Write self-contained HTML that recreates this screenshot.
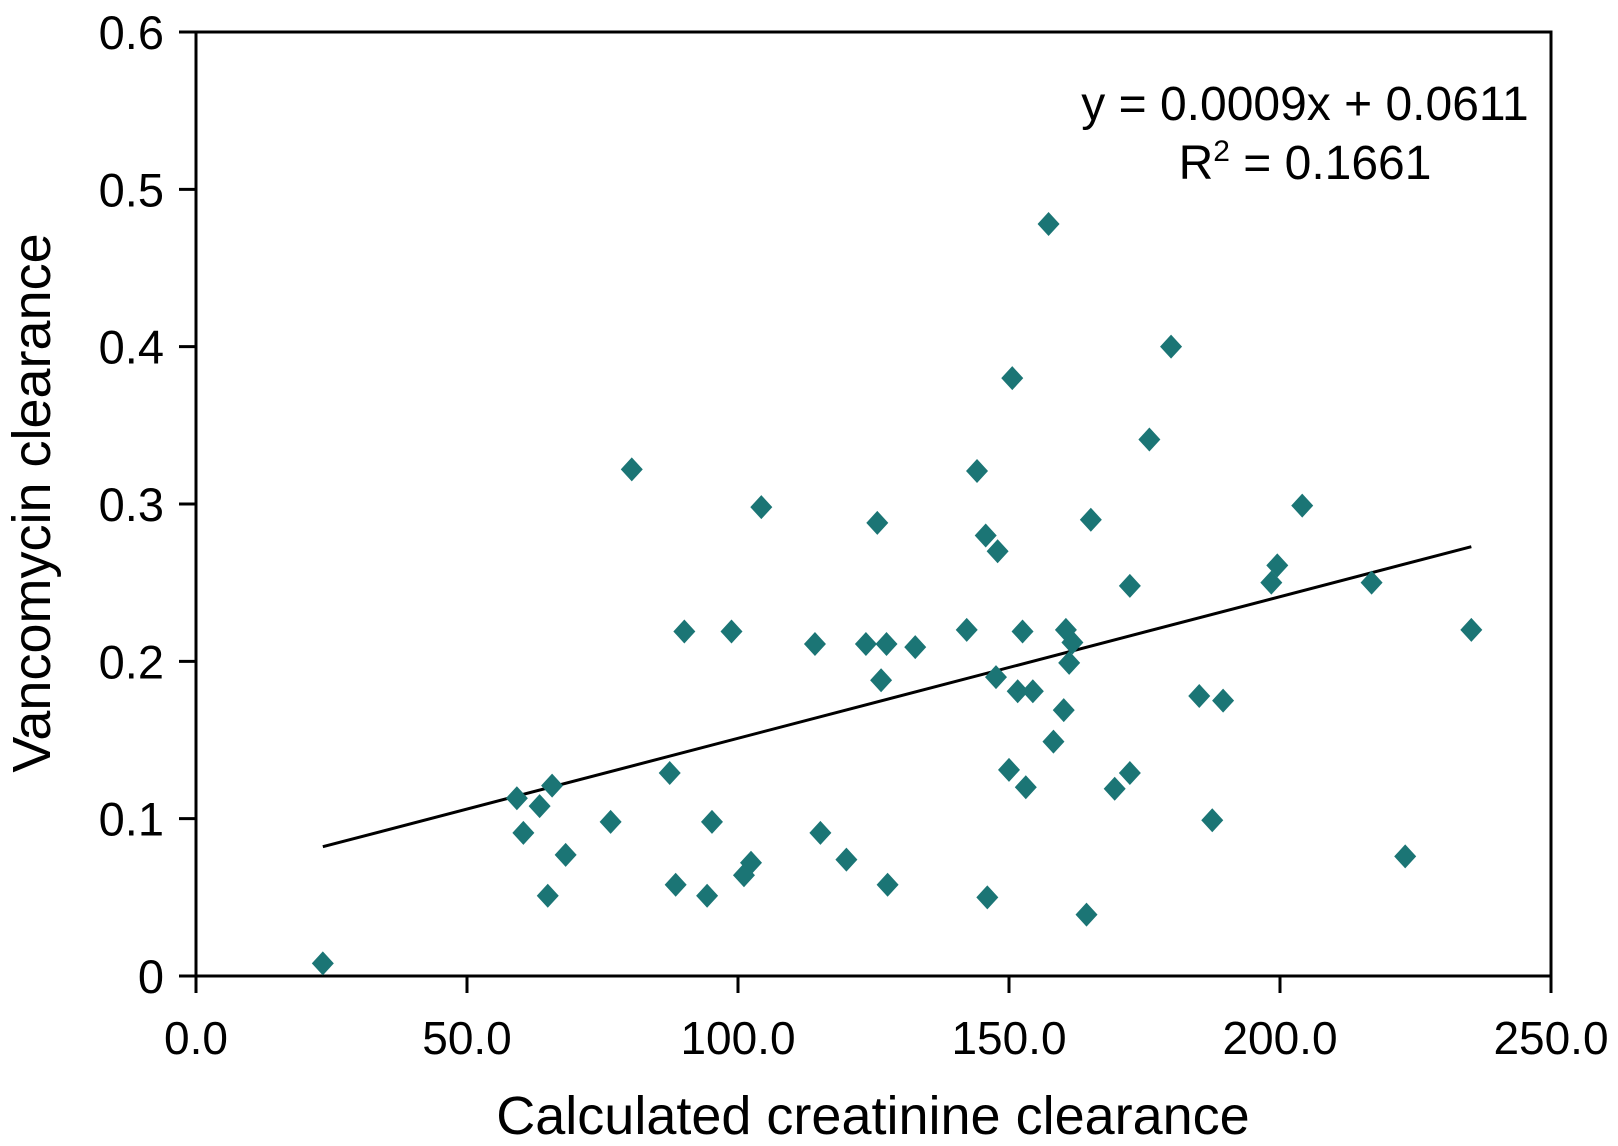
<!DOCTYPE html>
<html><head><meta charset="utf-8"><style>
html,body{margin:0;padding:0;background:#fff;}
svg{display:block;font-family:"Liberation Sans",Arial,sans-serif;}
</style></head><body>
<svg id="chart" width="1618" height="1146" viewBox="0 0 1618 1146" xmlns="http://www.w3.org/2000/svg">
<g id="axes"></g>
<g id="marks"></g>
<text x="1305" y="120" font-size="48" text-anchor="middle">y = 0.0009x + 0.0611</text>
<text x="1305" y="179" font-size="48" text-anchor="middle">R<tspan font-size="30" dy="-18">2</tspan><tspan dy="18"> = 0.1661</tspan></text>
<text x="873" y="1134" font-size="54" text-anchor="middle">Calculated creatinine clearance</text>
<text transform="translate(50,503) rotate(-90)" font-size="54" text-anchor="middle">Vancomycin clearance</text>
</svg>
<script>
const xValues=[23.4,59.2,60.4,63.4,65.7,64.9,68.2,76.5,80.4,87.4,88.5,90.1,95.2,94.3,98.8,101.1,102.4,104.3,114.2,115.2,120.0,123.6,125.7,126.4,127.4,127.6,132.7,142.2,144.1,145.7,146.0,147.6,147.9,150.0,150.6,151.6,152.5,153.1,154.4,157.3,158.2,160.1,160.5,161.1,161.7,164.3,165.1,169.5,172.3,172.3,175.9,179.9,185.1,187.5,189.5,198.4,199.5,204.1,216.9,223.1,235.3];
const yValues=[0.008,0.113,0.091,0.108,0.121,0.051,0.077,0.098,0.322,0.129,0.058,0.219,0.098,0.051,0.219,0.064,0.072,0.298,0.211,0.091,0.074,0.211,0.288,0.188,0.211,0.058,0.209,0.220,0.321,0.280,0.050,0.190,0.270,0.131,0.380,0.181,0.219,0.120,0.181,0.478,0.149,0.169,0.220,0.199,0.212,0.039,0.290,0.119,0.129,0.248,0.341,0.400,0.178,0.099,0.175,0.250,0.261,0.299,0.250,0.076,0.220];
const xTicks=[0,50,100,150,200,250];
const xTickLabels=["0.0","50.0","100.0","150.0","200.0","250.0"];
const yTicks=[0,0.1,0.2,0.3,0.4,0.5,0.6];
const yTickLabels=["0","0.1","0.2","0.3","0.4","0.5","0.6"];
const slope=0.0009, intercept=0.0611;
const X0=196,X1=1551,Y0=976,Y1=32;
const sx=v=>X0+(v-0)/(250-0)*(X1-X0);
const sy=v=>Y0-(v-0)/(0.6-0)*(Y0-Y1);
const NS="http://www.w3.org/2000/svg";
function mk(tag,attrs,parent){const e=document.createElementNS(NS,tag);for(const k in attrs)e.setAttribute(k,attrs[k]);parent.appendChild(e);return e;}
const axes=document.getElementById('axes'),marks=document.getElementById('marks');
const frame=mk('rect',{x:X0,y:Y1,width:X1-X0,height:Y0-Y1,fill:'none',stroke:'#000','stroke-width':3},axes);


xTicks.forEach((t,i)=>{
  const l=mk('line',{x1:sx(t),x2:sx(t),y1:Y0,y2:Y0+17,stroke:'#000','stroke-width':3},axes);
  
  
  const tx=mk('text',{x:sx(t),y:1054,'font-size':46,'text-anchor':'middle'},axes);
  
  
  tx.textContent=xTickLabels[i];
});
yTicks.forEach((t,i)=>{
  const l=mk('line',{x1:X0-17,x2:X0,y1:sy(t),y2:sy(t),stroke:'#000','stroke-width':3},axes);
  
  
  const tx=mk('text',{x:164,y:sy(t)+17,'font-size':47,'text-anchor':'end'},axes);
  
  
  tx.textContent=yTickLabels[i];
});
const xmin=Math.min(...xValues),xmax=Math.max(...xValues);
const tl=mk('line',{x1:sx(xmin),y1:sy(slope*xmin+intercept),x2:sx(xmax),y2:sy(slope*xmax+intercept),stroke:'#000','stroke-width':3},marks);


xValues.forEach((xv,i)=>{
  const cx=sx(xv),cy=sy(yValues[i]);
  const p=mk('polygon',{points:`${cx},${cy-12} ${cx+11},${cy} ${cx},${cy+12} ${cx-11},${cy}`,fill:'#1b7575'},marks);
  
  
});
</script>
</body></html>
